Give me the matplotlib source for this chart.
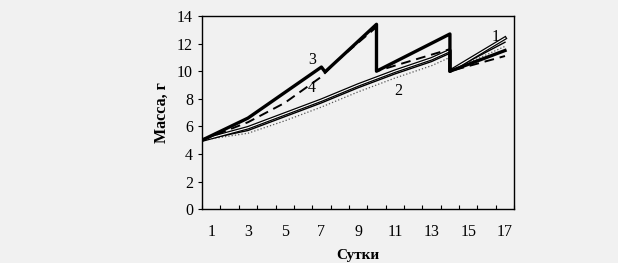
import numpy as np
import matplotlib.pyplot as plt

# values (days on a category axis, mass in g)
days_1 = [0.5, 3, 5, 7, 9, 11, 13, 14, 14, 17]
mass_1 = [5.0, 5.9, 6.9, 7.9, 9.0, 10.0, 10.9, 11.5, 10.0, 12.4]
mass_2 = [5.0, 5.7, 6.7, 7.7, 8.8, 9.8, 10.7, 11.3, 10.0, 12.1]
mass_5 = [5.0, 5.5, 6.4, 7.4, 8.5, 9.5, 10.4, 11.0, 10.0, 11.8]

days_3 = [0.5, 3, 7, 7.2, 10, 10, 14, 14, 17]
mass_3 = [5.0, 6.6, 10.3, 9.95, 13.4, 10.0, 12.7, 10.0, 11.5]

days_4 = [0.5, 3, 5, 7, 7.8, 10, 10, 14, 14, 17]
mass_4 = [5.0, 6.3, 7.7, 9.6, 10.7, 13.2, 10.0, 11.6, 10.0, 11.1]

tick_days = [1, 3, 5, 7, 9, 11, 13, 15, 17]
curve_labels = ['1', '2', '3', '4']
label_pos = [(16.5, 12.5), (11.2, 8.6), (6.5, 10.8), (6.5, 8.8)]

plt.rcParams['font.family'] = ['Liberation Serif', 'DejaVu Serif']
bg = '#f1f1f1'

fig = plt.figure(figsize=(6.18, 2.63), dpi=100, facecolor=bg)
ax = fig.add_axes([0.327, 0.205, 0.505, 0.734])
ax.set_facecolor(bg)

# lower bundle
ax.plot(days_1, mass_5, color='#555555', lw=0.9, ls=':')
ax.plot(days_1, mass_2, color='black', lw=1.0)
ax.plot(days_1, mass_1, color='black', lw=2.6)
ax.plot(days_1, mass_1, color='white', lw=0.8)
# dashed and thick sawtooth
ax.plot(days_4, mass_4, color='black', lw=1.4, ls=(0, (5, 3)))
ax.plot(days_3, mass_3, color='black', lw=2.4)

for lab, (x, y) in zip(curve_labels, label_pos):
    ax.text(x, y, lab, fontsize=11.5, ha='center', va='center')

ax.set_xlim(0.5, 17.5)
ax.set_ylim(0, 14)
ax.set_yticks(np.arange(0, 15, 2))
ax.set_xticks(tick_days)
ax.set_xticklabels([str(d) for d in tick_days])
ax.set_xticks(np.arange(0.5, 17.6, 1), minor=True)
ax.tick_params(axis='x', which='major', length=0, pad=11, labelsize=11.5)
ax.tick_params(axis='x', which='minor', direction='in', length=3, width=0.8)
ax.tick_params(axis='y', direction='out', length=3, width=0.8, labelsize=11.5)
for s in ax.spines.values():
    s.set_linewidth(1.0)

ax.set_ylabel('Масса, г', fontsize=11.5, fontweight='bold', labelpad=5)
ax.set_xlabel('Сутки', fontsize=11, fontweight='bold', labelpad=6)

fig.savefig('out.png', dpi=100, facecolor=bg)
